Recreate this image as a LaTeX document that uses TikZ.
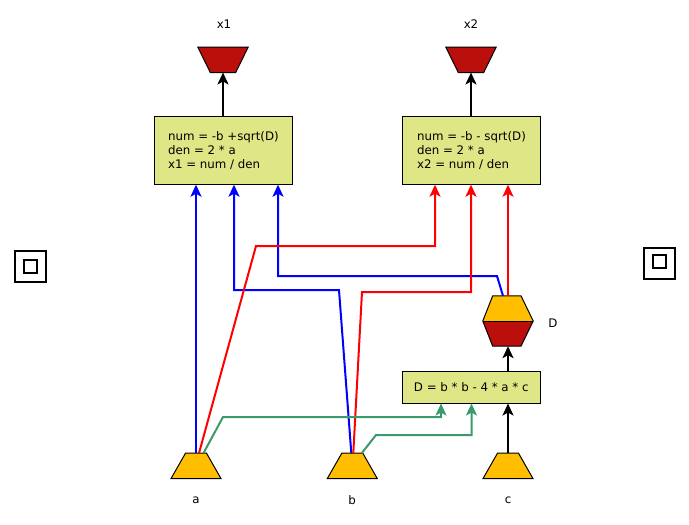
\documentclass[tikz,border=0pt]{standalone}
\usepackage{fontspec}
\setmainfont{DejaVu Sans}
\usetikzlibrary{arrows.meta}
\definecolor{boxfill}{HTML}{DEE686}
\definecolor{orangeA}{HTML}{FFBF00}
\definecolor{darkredA}{HTML}{BA0F0B}
\definecolor{greenA}{HTML}{3A9A6C}
\begin{document}
\begin{tikzpicture}[x=1pt,y=-1pt,font=\fontsize{11.8}{14}\selectfont,
  conn/.style={line width=2pt,-{Stealth[length=12pt,width=11pt,inset=3pt]}},
  proc/.style={draw,line width=1pt,fill=boxfill,minimum width=138.5pt,minimum height=68pt,align=left,inner sep=0pt},
  inp/.style={minimum width=49.5pt,minimum height=25pt,inner sep=0pt},
  outp/.style={minimum width=50pt,minimum height=25pt,inner sep=0pt},
  inshape/.style={fill=orangeA,draw,line width=1pt},
  outshape/.style={fill=darkredA,draw,line width=1pt},
  lbl/.style={inner sep=0pt},
  icon/.style={draw,line width=2pt,inner sep=0pt}]
\useasboundingbox (0,0) rectangle (689,525);
% icons
\node[icon,minimum size=31pt] (icL) at (30,266.7) {};
\node[icon,minimum size=13pt] (icLi) at (30,266) {};
\node[icon,minimum size=31pt] (icR) at (659.5,263.7) {};
\node[icon,minimum size=13pt] (icRi) at (659,261.5) {};
% outputs
\node[outp] (o1) at (223,59.8) {};
\node[outp] (o2) at (471,59.8) {};
\foreach \n in {o1,o2}{
  \draw[outshape] (\n.north west) -- (\n.north east) -- ([xshift=-12.5pt]\n.south east) -- ([xshift=12.5pt]\n.south west) -- cycle;
}
\node[lbl] (lx1) at (224,24) {x1};
\node[lbl] (lx2) at (471,24) {x2};
% function boxes
\node[proc] (f1) at (223.4,150.2) {num = -b +sqrt(D)\\den = 2 * a\\x1 = num / den};
\node[proc] (f2) at (471.5,150.2) {num = -b - sqrt(D)\\den = 2 * a\\x2 = num / den};
\node[proc,minimum height=31.5pt] (fd) at (471.3,387.3) {D = b * b - 4 * a * c};
% hexagon D
\node[minimum width=50pt,minimum height=50pt,inner sep=0pt] (D) at (508,321) {};
\fill[orangeA] ([xshift=-15.3pt]D.north) -- ([xshift=13pt]D.north) -- (D.east) -- (D.west) -- cycle;
\fill[darkredA] (D.west) -- (D.east) -- ([xshift=13pt]D.south) -- ([xshift=-15.3pt]D.south) -- cycle;
\draw[line width=1pt] ([xshift=-15.3pt]D.north) -- ([xshift=13pt]D.north) -- (D.east) -- ([xshift=13pt]D.south) -- ([xshift=-15.3pt]D.south) -- (D.west) -- cycle;
\draw[line width=1pt] (D.west) -- (D.east);
\node[lbl] (lD) at (553,323) {D};
% inputs
\node[inp] (a) at (196,465.8) {};
\node[inp] (b) at (352.3,465.8) {};
\node[inp] (c) at (508,465.8) {};
\foreach \n in {a,b,c}{
  \draw[inshape] (\n.south west) -- (\n.south east) -- ([xshift=-14.5pt]\n.north east) -- ([xshift=14.5pt]\n.north west) -- cycle;
}
\node[lbl] (la) at (196,500) {a};
\node[lbl] (lb) at (352,500) {b};
\node[lbl] (lc) at (508,500) {c};
% black connectors
\draw[conn,black] (f1.north -| o1.south) -- (o1.south);
\draw[conn,black] (f2.north -| o2.south) -- (o2.south);
\draw[conn,black] (D.south |- fd.north) -- (D.south);
\draw[conn,black] (c.north) -- (c.north |- fd.south);
% blue
\draw[conn,blue] (a.north) -- (a.north |- f1.south);
\draw[conn,blue] ([xshift=-1pt]b.north) -- (339,290) -- (234,290) -- ([xshift=10.6pt]f1.south);
\draw[conn,blue] ([xshift=-5pt]D.north) -- (497,276) -- (278,276) -- ([xshift=54.6pt]f1.south);
% red
\draw[conn,red] ([xshift=3pt]a.north) -- (256,246) -- (435,246) -- ([xshift=-36.5pt]f2.south);
\draw[conn,red] ([xshift=1pt]b.north) -- (362,292) -- (471,292) -- ([xshift=-0.5pt]f2.south);
\draw[conn,red] (D.north) -- (D.north |- f2.south);
% green
\draw[conn,greenA] ([xshift=7.5pt]a.north) -- (223,417) -- (441,417) -- ([xshift=-30.3pt]fd.south);
\draw[conn,greenA] ([xshift=9.5pt]b.north) -- (376,435) -- (471.5,435) -- ([xshift=0.2pt]fd.south);
\end{tikzpicture}
\end{document}
